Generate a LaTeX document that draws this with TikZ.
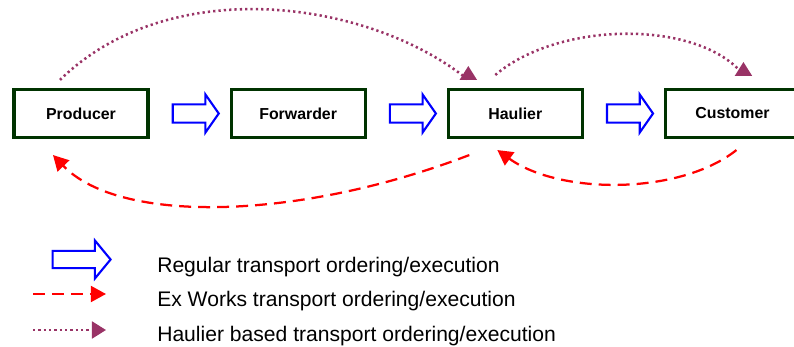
\documentclass[tikz,border=0pt]{standalone}
\usepackage{fontspec}
\setmainfont{Liberation Sans}
\usetikzlibrary{shapes.arrows, arrows.meta, positioning, calc}
\definecolor{boxgreen}{HTML}{003300}
\definecolor{plum}{HTML}{993366}

\begin{document}
\begin{tikzpicture}[x=0.025cm, y=-0.025cm, node distance=2cm,
  party/.style={rectangle, draw=boxgreen, line width=2.2pt, fill=white, minimum width=3.35cm, minimum height=1.2cm, font=\bfseries\fontsize{11.3}{13}\selectfont},
  flow/.style={single arrow, draw=blue, line width=1.5pt, fill=white, inner xsep=0pt, inner ysep=0.2cm, minimum height=1.15cm, single arrow head extend=0.25cm, single arrow tip angle=110},
  exworks/.style={draw=red, line width=1.6pt, dash pattern=on 8.5pt off 5pt, -{Triangle[length=0.38cm, width=0.4cm]}},
  haulbased/.style={draw=plum, line width=1.8pt, dash pattern=on 1.6pt off 2.2pt, -{Triangle[length=0.35cm, width=0.42cm]}},
  legtext/.style={anchor=base west, inner sep=0pt, font=\fontsize{15}{18}\selectfont}]
\clip (0,0) rectangle (794,347);
% parties
\node[party] (prod) at (81,113.5) {Producer};
\node[party, right=of prod] (fwd) {Forwarder};
\node[party, right=of fwd]  (haul) {Haulier};
\node[party, right=of haul] (cust) {Customer};
% regular flow
\node[flow] (r1) at ($(prod.east)!0.5!(fwd.west)+(3,0)$) {};
\node[flow] (r2) at ($(fwd.east)!0.5!(haul.west)+(3,0)$) {};
\node[flow] (r3) at ($(haul.east)!0.5!(cust.west)+(3,0)$) {};
% ex works
\coordinate (hS) at ($(haul.south)+(-46,16)$);
\coordinate (pS) at ($(prod.south)+(-28,16)$);
\coordinate (cS) at ($(cust.south)+(4,11)$);
\coordinate (hS2) at ($(haul.south)+(-18,11)$);
\draw[exworks] (hS) .. controls (300,220) and (120,225) .. (pS);
\draw[exworks] (cS) .. controls (680,195) and (560,195) .. (hS2);
% haulier based
\coordinate (pN) at ($(prod.north)+(-21,-8)$);
\coordinate (hB) at ($(haul.north)+(-47,-8)$);
\coordinate (hN) at ($(haul.north)+(-20,-13)$);
\coordinate (cB) at ($(cust.north)+(11,-13)$);
\draw[haulbased] (pN) .. controls (170,-28) and (370,0) .. (hB) -- ++(0,-14);
\draw[haulbased] (hN) .. controls (560,20) and (700,20) .. (cB) -- ++(0,-13);
% legend
\node[flow, minimum height=1.45cm, inner ysep=0.19cm, single arrow head extend=0.26cm, single arrow tip angle=101] (lg1) at (78,259.5) {};
\coordinate (ex0) at (33,294);
\coordinate (ex1) at (106,294);
\coordinate (hb0) at (33,330);
\coordinate (hb1) at (106,330);
\draw[exworks] (ex0) -- (ex1);
\draw[haulbased] (hb0) -- (hb1);
\node[legtext] (t1) at (157,272) {Regular transport ordering/execution};
\node[legtext] (t2) at (157,306) {Ex Works transport ordering/execution};
\node[legtext] (t3) at (157,341) {Haulier based transport ordering/execution};
\end{tikzpicture}
\end{document}
